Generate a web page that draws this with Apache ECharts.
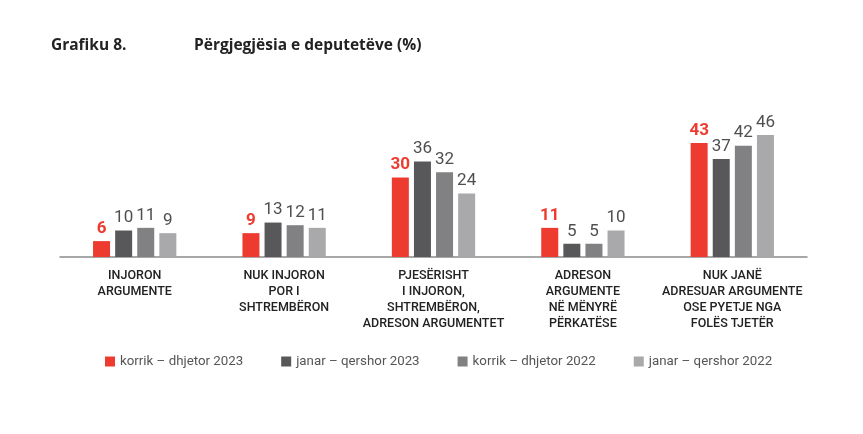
<!DOCTYPE html>
<html><head><meta charset="utf-8">
<script src="https://cdn.jsdelivr.net/npm/echarts@6/dist/echarts.min.js"></script>
<style>html,body{margin:0;padding:0;background:#fff}#c{width:863px;height:434px}</style>
</head><body><div id="c"></div>
<script>
var categories = ["INJORON\nARGUMENTE", "NUK INJORON\nPOR I\nSHTREMBËRON", "PJESËRISHT\nI INJORON,\nSHTREMBËRON,\nADRESON ARGUMENTET", "ADRESON\nARGUMENTE\nNË MËNYRË\nPËRKATËSE", "NUK JANË\nADRESUAR ARGUMENTE\nOSE PYETJE NGA\nFOLËS TJETËR"];
var seriesNames = ["korrik – dhjetor 2023", "janar – qershor 2023", "korrik – dhjetor 2022", "janar – qershor 2022"];
var s2023b = [6, 9, 30, 11, 43];
var s2023a = [10, 13, 36, 5, 37];
var s2022b = [11, 12, 32, 5, 42];
var s2022a = [9, 11, 24, 10, 46];
var colors = ["#EE3B2F", "#58585A", "#818184", "#A9A9AC"];
var data = [s2023b, s2023a, s2022b, s2022a];

var chart = echarts.init(document.getElementById('c'));
var series = data.map(function (d, i) {
  return {
    name: seriesNames[i], type: 'bar', data: d, barWidth: 17, barGap: '30%',
    itemStyle: { color: colors[i] },
    label: {
      show: true, position: 'top', distance: 4,
      fontFamily: 'Roboto', fontSize: 17,
      fontWeight: i === 0 ? 'bold' : 'normal',
      color: i === 0 ? '#EE3B2F' : '#4f4f52'
    }
  };
});
chart.setOption({
  animation: false,
  title: [
    { text: 'Grafiku 8.', left: 46, top: 33, textStyle: { fontFamily: 'Open Sans', fontSize: 15.5, fontWeight: 'bold', color: '#222' } },
    { text: 'Përgjegjësia e deputetëve (%)', left: 189, top: 33, textStyle: { fontFamily: 'Open Sans', fontSize: 15.5, fontWeight: 'bold', color: '#222' } }
  ],
  legend: {
    left: 100, top: 350, itemWidth: 10, itemHeight: 10, itemGap: 38,
    icon: 'rect',
    textStyle: { fontFamily: 'Roboto', fontSize: 13.3, color: '#555' },
    data: seriesNames
  },
  grid: { left: 60, right: 56, top: 98, bottom: 177 },
  xAxis: {
    type: 'category', data: categories,
    axisLine: { lineStyle: { color: '#8a8a8a', width: 1.5 } },
    axisTick: { show: false },
    axisLabel: { interval: 0, margin: 11, fontFamily: 'Roboto', fontWeight: 500, fontSize: 12.5, lineHeight: 16, color: '#222' }
  },
  yAxis: { type: 'value', min: 0, max: 60, show: false, splitLine: { show: false } },
  series: series
});
</script></body></html>
